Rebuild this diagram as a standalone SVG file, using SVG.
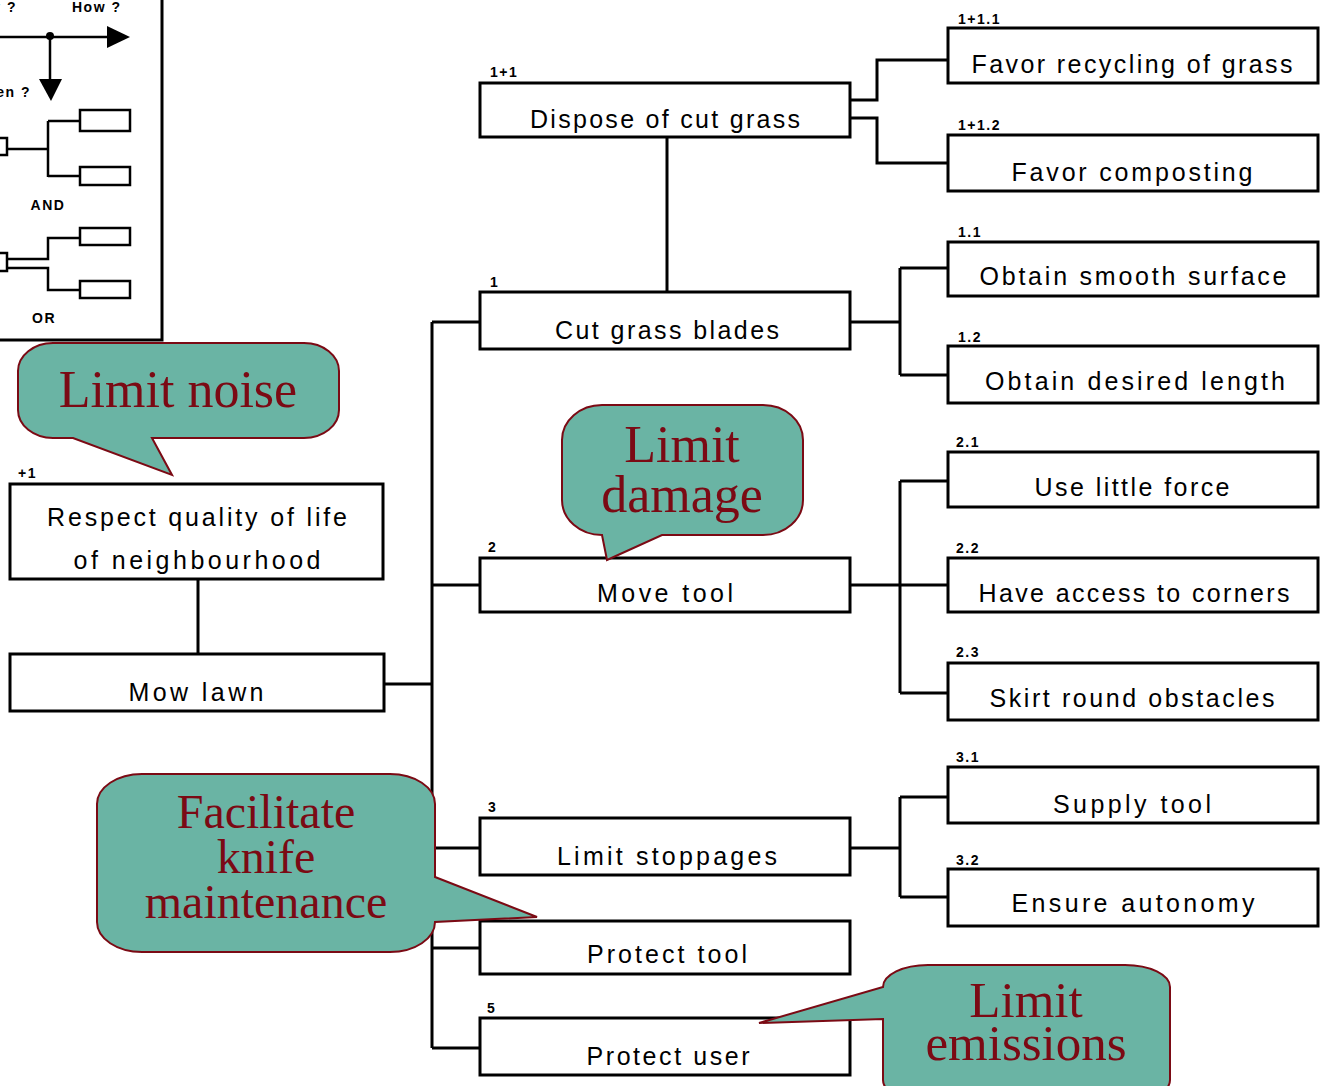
<svg xmlns="http://www.w3.org/2000/svg" width="1322" height="1086" viewBox="0 0 1322 1086">
<style>
.box{fill:#fff;stroke:#000;stroke-width:3}
.lbox{fill:#fff;stroke:#000;stroke-width:2.5}
.conn{fill:none;stroke:#000;stroke-width:3}
.lconn{fill:none;stroke:#000;stroke-width:2.5}
.t{font-family:"Liberation Sans",Arial,sans-serif;font-size:25px;text-anchor:middle;fill:#000}
.lbl{font-family:"Liberation Sans",Arial,sans-serif;font-weight:bold;font-size:14px;letter-spacing:1.5px;fill:#000}
.co{fill:#6AB4A4;stroke:#7B0A14;stroke-width:2}
.ct{font-family:"Liberation Serif","Times New Roman",serif;fill:#7B0A14;text-anchor:middle}
</style>
<rect width="1322" height="1086" fill="#fff"/>

<g id="legend">
<rect x="-10" y="-10" width="172" height="350" class="box"/>
<text x="17" y="12" class="lbl" text-anchor="end">Why ?</text>
<text x="72" y="12" class="lbl">How ?</text>
<line x1="0" y1="37" x2="110" y2="37" class="lconn"/>
<polygon points="107,26 130,37 107,48"/>
<circle cx="50" cy="36" r="4"/>
<line x1="50" y1="37" x2="50" y2="82" class="lconn"/>
<polygon points="39,79 62,79 51,101"/>
<text x="31" y="97" class="lbl" text-anchor="end">When ?</text>
<rect x="-20" y="138" width="27" height="17" class="lbox"/>
<path d="M7,149 H48 M48,121 V177 M48,121 H80 M48,176 H80" class="lconn"/>
<rect x="80" y="110" width="50" height="21" class="lbox"/>
<rect x="80" y="167" width="50" height="18" class="lbox"/>
<text x="48" y="210" class="lbl" text-anchor="middle">AND</text>
<rect x="-20" y="253" width="27" height="18" class="lbox"/>
<path d="M7,259 H48 V238 H80 M7,268 H48 V290 H80" class="lconn"/>
<rect x="80" y="228" width="50" height="17" class="lbox"/>
<rect x="80" y="281" width="50" height="17" class="lbox"/>
<text x="44" y="323" class="lbl" text-anchor="middle">OR</text>
</g>

<g id="connectors">
<path class="conn" d="M432,322 V1048 M432,322 H480 M432,585 H480 M432,848 H480 M432,948 H480 M432,1048 H480"/>
<path class="conn" d="M384,684 H432 M198,579 V654 M667,137 V292"/>
<path class="conn" d="M850,100 H877 V60 H948 M850,118 H877 V163 H948"/>
<path class="conn" d="M850,322 H900 M900,268 V375 M900,268 H948 M900,375 H948"/>
<path class="conn" d="M850,585 H948 M900,481 V693 M900,481 H948 M900,693 H948"/>
<path class="conn" d="M850,848 H900 M900,797 V897 M900,797 H948 M900,897 H948"/>
</g>

<g id="n-dispose">
<rect x="480" y="83" width="370" height="54" class="box"/>
<text x="490" y="77" class="lbl">1+1</text>
<text x="665" y="128" class="t" textLength="270" lengthAdjust="spacing">Dispose of cut grass</text>
</g>
<g id="n-recycling">
<rect x="948" y="28" width="370" height="55" class="box"/>
<text x="958" y="24" class="lbl">1+1.1</text>
<text x="1132" y="73" class="t" textLength="321" lengthAdjust="spacing">Favor recycling of grass</text>
</g>
<g id="n-composting">
<rect x="948" y="135" width="370" height="56" class="box"/>
<text x="958" y="130" class="lbl">1+1.2</text>
<text x="1132" y="181" class="t" textLength="241" lengthAdjust="spacing">Favor composting</text>
</g>
<g id="n-cut">
<rect x="480" y="292" width="370" height="57" class="box"/>
<text x="490" y="287" class="lbl">1</text>
<text x="667" y="339" class="t" textLength="224" lengthAdjust="spacing">Cut grass blades</text>
</g>
<g id="n-smooth">
<rect x="948" y="242" width="370" height="54" class="box"/>
<text x="958" y="237" class="lbl">1.1</text>
<text x="1133" y="285" class="t" textLength="307" lengthAdjust="spacing">Obtain smooth surface</text>
</g>
<g id="n-length">
<rect x="948" y="346" width="370" height="57" class="box"/>
<text x="958" y="342" class="lbl">1.2</text>
<text x="1135" y="390" class="t" textLength="300" lengthAdjust="spacing">Obtain desired length</text>
</g>
<g id="n-respect">
<rect x="10" y="484" width="373" height="95" class="box"/>
<text x="18" y="478" class="lbl">+1</text>
<text x="197" y="526" class="t" textLength="300" lengthAdjust="spacing">Respect quality of life</text>
<text x="197" y="569" class="t" textLength="247" lengthAdjust="spacing">of neighbourhood</text>
</g>
<g id="n-mow">
<rect x="10" y="654" width="374" height="57" class="box"/>
<text x="196" y="701" class="t" textLength="135" lengthAdjust="spacing">Mow lawn</text>
</g>
<g id="n-move">
<rect x="480" y="558" width="370" height="54" class="box"/>
<text x="488" y="552" class="lbl">2</text>
<text x="665" y="602" class="t" textLength="136" lengthAdjust="spacing">Move tool</text>
</g>
<g id="n-force">
<rect x="948" y="452" width="370" height="55" class="box"/>
<text x="956" y="447" class="lbl">2.1</text>
<text x="1132" y="496" class="t" textLength="195" lengthAdjust="spacing">Use little force</text>
</g>
<g id="n-corners">
<rect x="948" y="558" width="370" height="54" class="box"/>
<text x="956" y="553" class="lbl">2.2</text>
<text x="1134" y="602" class="t" textLength="311" lengthAdjust="spacing">Have access to corners</text>
</g>
<g id="n-skirt">
<rect x="948" y="663" width="370" height="57" class="box"/>
<text x="956" y="657" class="lbl">2.3</text>
<text x="1132" y="707" class="t" textLength="285" lengthAdjust="spacing">Skirt round obstacles</text>
</g>
<g id="n-stoppages">
<rect x="480" y="818" width="370" height="57" class="box"/>
<text x="488" y="812" class="lbl">3</text>
<text x="667" y="865" class="t" textLength="220" lengthAdjust="spacing">Limit stoppages</text>
</g>
<g id="n-supply">
<rect x="948" y="767" width="370" height="56" class="box"/>
<text x="956" y="762" class="lbl">3.1</text>
<text x="1132" y="813" class="t" textLength="158" lengthAdjust="spacing">Supply tool</text>
</g>
<g id="n-autonomy">
<rect x="948" y="869" width="370" height="57" class="box"/>
<text x="956" y="865" class="lbl">3.2</text>
<text x="1133" y="912" class="t" textLength="243" lengthAdjust="spacing">Ensure autonomy</text>
</g>
<g id="n-protect-tool">
<rect x="480" y="921" width="370" height="53" class="box"/>
<text x="667" y="963" class="t" textLength="160" lengthAdjust="spacing">Protect tool</text>
</g>
<g id="n-protect-user">
<rect x="480" y="1018" width="370" height="57" class="box"/>
<text x="487" y="1013" class="lbl">5</text>
<text x="668" y="1065" class="t" textLength="163" lengthAdjust="spacing">Protect user</text>
</g>

<g id="callout-noise">
<path class="co" d="M53,343 H304 A35 28 0 0 1 339,371 V410 A35 28 0 0 1 304,438 H152 L172,475 L73,438 H53 A35 28 0 0 1 18,410 V371 A35 28 0 0 1 53,343 Z"/>
<text x="178" y="407" class="ct" font-size="52">Limit noise</text>
</g>
<g id="callout-damage">
<path class="co" d="M602,405 H763 A40 35 0 0 1 803,440 V500 A40 35 0 0 1 763,535 H662 L607,560 L602,535 A40 35 0 0 1 562,500 V440 A40 35 0 0 1 602,405 Z"/>
<text x="682" y="462" class="ct" font-size="52">Limit</text>
<text x="682" y="512" class="ct" font-size="52">damage</text>
</g>
<g id="callout-knife">
<path class="co" d="M142,774 H390 A45 30 0 0 1 435,804 V877 L537,917 L435,922 A45 30 0 0 1 390,952 H142 A45 30 0 0 1 97,922 V804 A45 30 0 0 1 142,774 Z"/>
<text x="266" y="828" class="ct" font-size="48">Facilitate</text>
<text x="266" y="873" class="ct" font-size="48">knife</text>
<text x="266" y="918" class="ct" font-size="48">maintenance</text>
</g>
<g id="callout-emissions">
<path class="co" d="M928,965 H1125 A45 22 0 0 1 1170,987 V1080 A45 22 0 0 1 1125,1102 H928 A45 22 0 0 1 883,1080 V1019 L759,1023 L883,987 A45 22 0 0 1 928,965 Z"/>
<text x="1026" y="1017" class="ct" font-size="51">Limit</text>
<text x="1026" y="1060" class="ct" font-size="51">emissions</text>
</g>
</svg>
